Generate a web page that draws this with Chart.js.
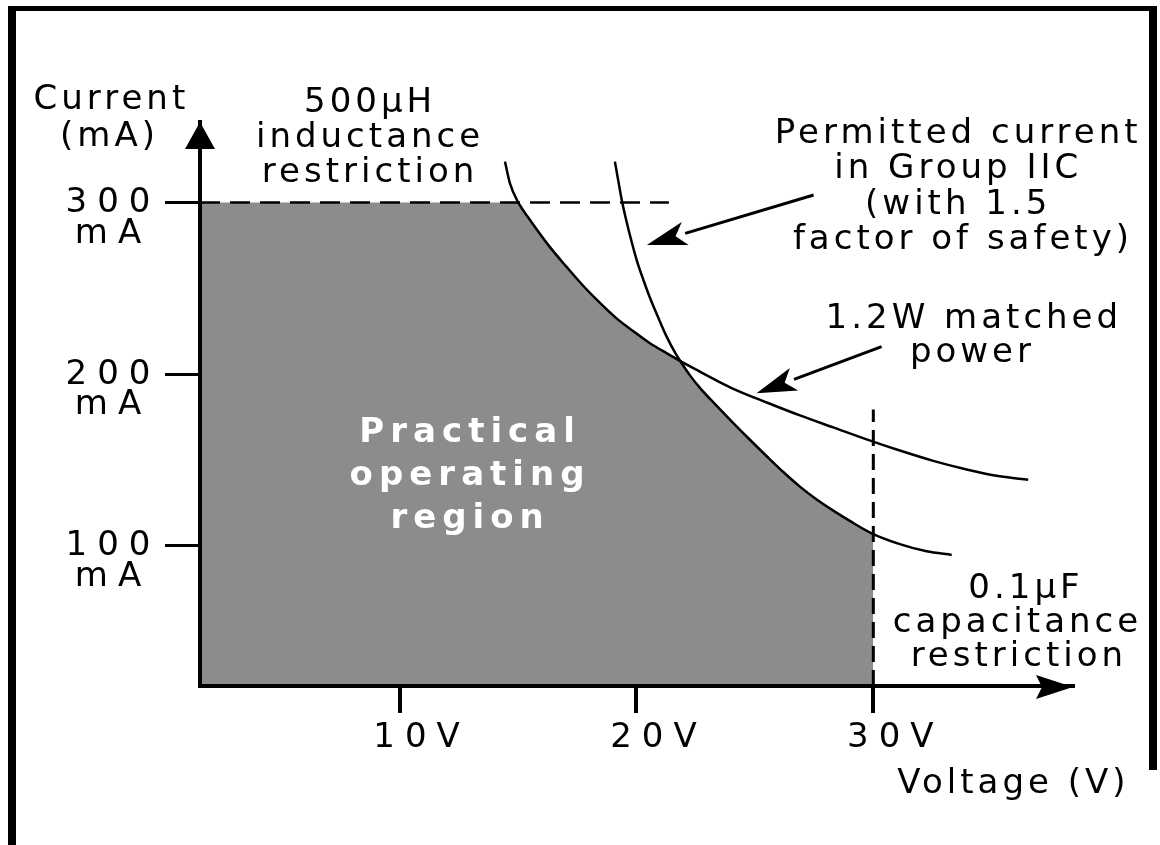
<!DOCTYPE html>
<html>
<head>
<meta charset="utf-8">
<script src="https://cdn.jsdelivr.net/npm/chart.js@4.4.0/dist/chart.umd.min.js"></script>
<style>
  html, body { margin: 0; padding: 0; background: #fff; }
  canvas { display: block; }
</style>
</head>
<body>
<canvas id="chart" width="1160" height="845"></canvas>
<script>
// Axis ticks
const voltTicks = [10, 20, 30];
const currentTicks = [100, 200, 300];
// Axis ranges (both axes start a little above zero in the drawing)
const voltRange = [1.575, 38.43];
const currentRange = [18.35, 346.9];

// Restrictions
const inductanceLimit = 300;      // mA, 500uH inductance restriction
const inductanceLineEnd = 21.37;  // V, where the dashed 300 mA line stops
const capacitanceLimit = 30;      // V, 0.1uF capacitance restriction
const capacitanceLineTop = 179.4; // mA, top of the dashed 30 V line
const capacitanceCornerI = 107;   // mA, region corner on the 30 V line
const crossingV = 21.84;          // V, where the two curves cross

// 1.2W matched power curve
const powerV = [14.45, 14.66, 15.01, 15.50, 16.35, 17.05, 17.75, 18.46, 19.16, 19.87, 20.57, 21.27, 21.84,
  22.68, 23.39, 24.09, 25.50, 26.90, 28.31, 29.93, 31.12, 32.53, 33.94, 35.34, 36.54];
const powerI = [323.8, 311.2, 300.0, 290.0, 274.0, 262.5, 251.5, 241.5, 232.5, 225.0, 218.0, 212.3, 207.8,
  201.5, 196.3, 191.5, 183.5, 176.0, 169.0, 161.0, 155.5, 149.5, 144.5, 140.5, 138.5];

// Permitted current in Group IIC (1.5 factor of safety)
const ignitionV = [19.09, 19.23, 19.38, 19.59, 19.80, 20.01, 20.29, 20.57, 20.92, 21.27, 21.63, 21.84,
  22.26, 22.68, 23.39, 24.09, 24.79, 25.50, 26.20, 26.90, 27.61, 28.31, 29.01, 29.93, 31.12, 32.25, 33.31];
const ignitionI = [323.8, 313.0, 301.5, 288.5, 277.0, 266.5, 255.0, 244.5, 233.0, 222.0, 212.5, 207.8,
  199.3, 192.0, 181.5, 171.5, 161.8, 152.2, 143.0, 134.5, 127.0, 120.5, 114.5, 107.3, 101.0, 96.8, 94.7];

const FONT = 'DejaVu Sans';
const toPts = (xs, ys) => xs.map((x, i) => ({x, y: ys[i]}));

// practical operating region: 300 mA line, then power curve, then ignition curve, down at 30 V
const region = [{x: voltRange[0], y: inductanceLimit}];
powerV.forEach((v, i) => { if (powerI[i] <= inductanceLimit && v <= crossingV) region.push({x: v, y: powerI[i]}); });
ignitionV.forEach((v, i) => { if (v > crossingV && v < capacitanceLimit) region.push({x: v, y: ignitionI[i]}); });
region.push({x: capacitanceLimit, y: capacitanceCornerI});

// text notes, placed in data units
const notes = [
  {text: 'Current', v: -2.25, i: 354.5},
  {text: '(mA)', v: -2.33, i: 332.7},
  {text: '500µH', v: 8.67, i: 352.8},
  {text: 'inductance', v: 8.67, i: 332.4},
  {text: 'restriction', v: 8.67, i: 312.0},
  {text: 'Permitted current', v: 33.5, i: 334.6},
  {text: 'in Group IIC', v: 33.5, i: 314.0},
  {text: '(with 1.5', v: 33.5, i: 293.3},
  {text: 'factor of safety)', v: 33.7, i: 272.7},
  {text: '1.2W matched', v: 34.16, i: 226.9},
  {text: 'power', v: 34.1, i: 207.1},
  {text: '0.1µF', v: 36.36, i: 69.6},
  {text: 'capacitance', v: 36.0, i: 49.8},
  {text: 'restriction', v: 36.06, i: 30.0},
  {text: 'Voltage (V)', v: 35.83, i: -44},
  {text: 'Practical', v: 12.85, i: 160.5, bold: true},
  {text: 'operating', v: 12.85, i: 135.4, bold: true},
  {text: 'region', v: 12.85, i: 110.4, bold: true}
];
const pointers = [
  {from: [27.48, 304.4], to: [20.44, 275.3]},
  {from: [30.35, 216.0], to: [25.07, 188.9]}
];

function arrowTo(ctx, x0, y0, x1, y1, len, half) {
  const a = Math.atan2(y1 - y0, x1 - x0);
  const bx = x1 - len * Math.cos(a), by = y1 - len * Math.sin(a);
  ctx.beginPath(); ctx.moveTo(x0, y0); ctx.lineTo(bx, by); ctx.stroke();
  ctx.beginPath();
  ctx.moveTo(x1, y1);
  ctx.lineTo(bx + half * Math.sin(a), by - half * Math.cos(a));
  ctx.lineTo(bx + 0.25 * len * Math.cos(a), by + 0.25 * len * Math.sin(a));
  ctx.lineTo(bx - half * Math.sin(a), by + half * Math.cos(a));
  ctx.closePath(); ctx.fill();
}

const decor = {
  id: 'decor',
  beforeDraw(chart) { chart.ctx.letterSpacing = '10px'; },
  afterDraw(chart) {
    const ctx = chart.ctx, xs = chart.scales.x, ys = chart.scales.y, a = chart.chartArea;
    ctx.save();
    ctx.fillStyle = '#000'; ctx.strokeStyle = '#000';
    // frame
    ctx.fillRect(8, 6, 8, 839);
    ctx.fillRect(8, 6, 1149, 5);
    ctx.fillRect(1149, 6, 8, 764);
    // axis arrow heads
    ctx.beginPath();
    ctx.moveTo(a.left, a.top); ctx.lineTo(a.left - 15, a.top + 27); ctx.lineTo(a.left + 15, a.top + 27);
    ctx.closePath(); ctx.fill();
    ctx.beginPath();
    ctx.moveTo(a.right, a.bottom + 1); ctx.lineTo(a.right - 37, a.bottom - 11);
    ctx.lineTo(a.right - 31, a.bottom + 1); ctx.lineTo(a.right - 37, a.bottom + 13);
    ctx.closePath(); ctx.fill();
    // pointer arrows
    ctx.lineWidth = 3;
    pointers.forEach(p => arrowTo(ctx, xs.getPixelForValue(p.from[0]), ys.getPixelForValue(p.from[1]),
      xs.getPixelForValue(p.to[0]), ys.getPixelForValue(p.to[1]), 40, 12));
    // notes
    ctx.textAlign = 'center'; ctx.textBaseline = 'alphabetic';
    notes.forEach(n => {
      const ls = n.bold ? 6 : 4;
      ctx.letterSpacing = ls + 'px';
      ctx.font = (n.bold ? 'bold ' : '') + '34px "' + FONT + '"';
      ctx.fillStyle = n.bold ? '#fff' : '#000';
      ctx.fillText(n.text, xs.getPixelForValue(n.v) + ls / 2, ys.getPixelForValue(n.i));
    });
    ctx.restore();
    ctx.letterSpacing = '0px';
  }
};

new Chart(document.getElementById('chart'), {
  type: 'scatter',
  data: {
    datasets: [
      {data: region, showLine: true, fill: 'start', backgroundColor: '#8c8c8c', borderWidth: 0, pointRadius: 0,
        cubicInterpolationMode: 'monotone', order: 10},
      {data: [{x: voltRange[0], y: inductanceLimit}, {x: inductanceLineEnd, y: inductanceLimit}], showLine: true,
        borderColor: '#000', borderWidth: 2.5, borderDash: [20, 10], pointRadius: 0, order: 1},
      {data: [{x: capacitanceLimit, y: currentRange[0]}, {x: capacitanceLimit, y: capacitanceLineTop}], showLine: true,
        borderColor: '#000', borderWidth: 3, borderDash: [16, 8], pointRadius: 0, order: 1},
      {data: toPts(powerV, powerI), showLine: true, borderColor: '#000', borderWidth: 2.5, pointRadius: 0,
        cubicInterpolationMode: 'monotone', order: 0},
      {data: toPts(ignitionV, ignitionI), showLine: true, borderColor: '#000', borderWidth: 2.5, pointRadius: 0,
        cubicInterpolationMode: 'monotone', order: 0}
    ]
  },
  options: {
    responsive: false,
    animation: false,
    devicePixelRatio: 1,
    layout: {padding: {left: 0, top: 122, right: 87, bottom: 0}},
    plugins: {legend: {display: false}, tooltip: {enabled: false}},
    scales: {
      x: {
        type: 'linear', position: 'bottom', min: voltRange[0], max: voltRange[1],
        afterBuildTicks: s => { s.ticks = voltTicks.map(v => ({value: v})); },
        afterFit: s => { s.height = 159; },
        border: {display: true, color: '#000', width: 4, z: 1},
        grid: {drawOnChartArea: false, drawTicks: true, tickLength: 27, color: '#000', lineWidth: 4, z: 1},
        ticks: {color: '#000', font: {family: FONT, size: 34, lineHeight: 1.2}, padding: 5, labelOffset: 22,
          maxRotation: 0, autoSkip: false, callback: v => v + 'V'}
      },
      y: {
        type: 'linear', position: 'left', min: currentRange[0], max: currentRange[1],
        afterBuildTicks: s => { s.ticks = currentTicks.map(v => ({value: v})); },
        afterFit: s => { s.width = 200; },
        border: {display: true, color: '#000', width: 4, z: 1},
        grid: {drawOnChartArea: false, drawTicks: true, tickLength: 35, color: '#000', lineWidth: 3, z: 1},
        ticks: {color: '#000', font: {family: FONT, size: 34, lineHeight: 0.9}, padding: 19.5, crossAlign: 'center',
          labelOffset: 16, autoSkip: false, callback: v => [String(v), 'mA']}
      }
    }
  },
  plugins: [decor]
});
</script>
</body>
</html>
